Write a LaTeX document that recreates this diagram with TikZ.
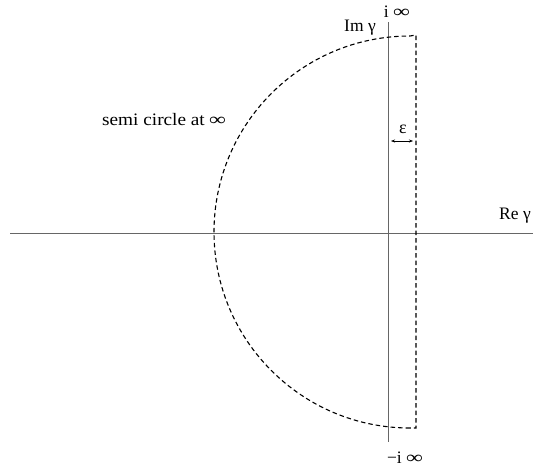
\documentclass[tikz,border=0pt]{standalone}
\usepackage{fontspec}
\setmainfont{Liberation Serif}
\usetikzlibrary{arrows.meta}
\newcommand{\infsym}{\scalebox{1.35}[1]{∞}}
\begin{document}
\begin{tikzpicture}[x=1pt,y=-1pt,
  axis/.style={gray!80!black,line width=0.6pt},
  contour/.style={black,dash pattern=on 4.5pt off 3pt,line width=1.1pt},
  lbl/.style={font=\fontsize{17.5}{17.5}\selectfont,inner sep=0pt,anchor=base}]
\useasboundingbox (0,0) rectangle (537,472);
% axes
\coordinate (xl) at (10,233);
\coordinate (xr) at (533,233);
\coordinate (yt) at (388,22);
\coordinate (yb) at (388,442);
\draw[axis] (xl) -- (xr);
\draw[axis] (yt) -- (yb);
% contour
\coordinate (cr) at (416,35);
\coordinate (crb) at (416,428);
\coordinate (cb) at (410,428);
\draw[contour] (cb) arc[start angle=90,end angle=270,radius=196] -- (cr) -- (crb) -- (cb);
% epsilon
\coordinate (e1) at (391,141);
\coordinate (e2) at (413,141);
\draw[{Stealth[length=4pt,width=3pt]}-{Stealth[length=4pt,width=3pt]},line width=0.5pt] (e1) -- (e2);
\node[lbl,font=\fontsize{18}{18}\selectfont] (eps) at (403,133) {ε};
% labels
\node[lbl] (iinf) at (397,17) {i \infsym};
\node[lbl] (im) at (360,31) {Im γ};
\node[lbl] (minf) at (405,463) {−i \infsym};
\node[lbl] (re) at (515,219) {Re γ};
\node[lbl,anchor=base west] (semi) at (102,125) {\scalebox{1.1}[1]{semi circle at} \infsym};
\end{tikzpicture}
\end{document}
